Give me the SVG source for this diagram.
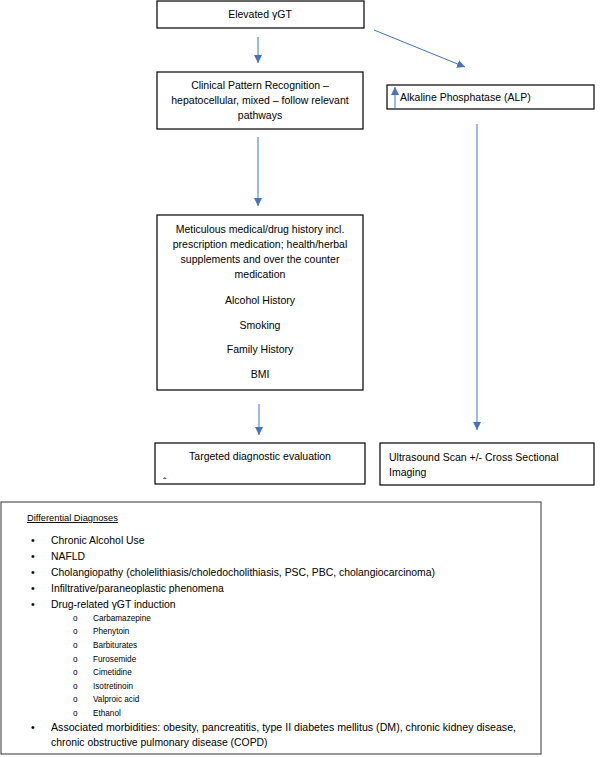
<svg xmlns="http://www.w3.org/2000/svg" width="600" height="757" viewBox="0 0 600 757">
<defs>
<style>
.box{fill:#fff;stroke:#000;stroke-width:1.2}
.t{font-family:"Liberation Sans",Arial,sans-serif;font-size:10.5px;fill:#000}
.c{text-anchor:middle}
.h{font-family:"Liberation Sans",Arial,sans-serif;font-size:9.3px;fill:#000}
.s{font-family:"Liberation Sans",Arial,sans-serif;font-size:10.4px;fill:#000}
.ss{font-family:"Liberation Sans",Arial,sans-serif;font-size:8.2px;fill:#000}
.ln{stroke:#4472C4;stroke-width:1;fill:none}
</style>
<marker id="ah" viewBox="0 0 10 10" refX="10" refY="5" markerWidth="8" markerHeight="8" markerUnits="userSpaceOnUse" orient="auto">
<path d="M0,0 L10,5 L0,10 z" fill="#4472C4"/>
</marker>
</defs>
<rect width="600" height="757" fill="#fff"/>
<g id="connectors">
<line class="ln" x1="258" y1="37" x2="258" y2="63" marker-end="url(#ah)"/>
<line class="ln" x1="374" y1="30" x2="465" y2="67" marker-end="url(#ah)"/>
<line class="ln" x1="258" y1="137" x2="258" y2="206" marker-end="url(#ah)"/>
<line class="ln" x1="477" y1="124" x2="477" y2="430" marker-end="url(#ah)"/>
<line class="ln" x1="259" y1="404" x2="259" y2="435" marker-end="url(#ah)"/>
</g>
<g id="elevated">
<rect class="box" x="157" y="1" width="207" height="27"/>
<text class="t c" x="260" y="18">Elevated γGT</text>
</g>
<g id="clinical">
<rect class="box" x="157" y="72" width="206" height="57"/>
<text class="t c" x="260" y="89">Clinical Pattern Recognition –</text>
<text class="t c" x="260" y="104">hepatocellular, mixed – follow relevant</text>
<text class="t c" x="260" y="119">pathways</text>
</g>
<g id="alp">
<rect class="box" x="387" y="85" width="207" height="24"/>
<line class="ln" x1="395" y1="108" x2="395" y2="87" marker-end="url(#ah)"/>
<text class="t" x="400" y="101">Alkaline Phosphatase (ALP)</text>
</g>
<g id="history">
<rect class="box" x="157" y="215" width="206" height="175"/>
<text class="t c" x="260" y="233">Meticulous medical/drug history incl.</text>
<text class="t c" x="260" y="248">prescription medication; health/herbal</text>
<text class="t c" x="260" y="263">supplements and over the counter</text>
<text class="t c" x="260" y="278">medication</text>
<text class="t c" x="260" y="304">Alcohol History</text>
<text class="t c" x="260" y="329">Smoking</text>
<text class="t c" x="260" y="353">Family History</text>
<text class="t c" x="260" y="378">BMI</text>
</g>
<g id="targeted">
<rect class="box" x="155" y="443" width="210" height="41"/>
<text class="t c" x="260" y="460">Targeted diagnostic evaluation</text>
<text class="t" x="163" y="486" font-size="8">ˆ</text>
</g>
<g id="ultrasound">
<rect class="box" x="380" y="443" width="214" height="42"/>
<text class="t" x="389" y="461">Ultrasound Scan +/- Cross Sectional</text>
<text class="t" x="389" y="476">Imaging</text>
</g>
<g id="differential">
<rect x="1" y="502" width="540" height="252" fill="#fff" stroke="#555" stroke-width="1.2"/>
<text class="h" x="27" y="521" text-decoration="underline">Differential Diagnoses</text>
<g class="s">
<text x="31" y="544">•</text><text x="51" y="544">Chronic Alcohol Use</text>
<text x="31" y="560">•</text><text x="51" y="560">NAFLD</text>
<text x="31" y="576">•</text><text x="51" y="576" textLength="384" lengthAdjust="spacingAndGlyphs">Cholangiopathy (cholelithiasis/choledocholithiasis, PSC, PBC, cholangiocarcinoma)</text>
<text x="31" y="592">•</text><text x="51" y="592">Infiltrative/paraneoplastic phenomena</text>
<text x="31" y="608">•</text><text x="51" y="608">Drug-related γGT induction</text>
<text x="31" y="731">•</text><text x="51" y="731" textLength="465" lengthAdjust="spacingAndGlyphs">Associated morbidities: obesity, pancreatitis, type II diabetes mellitus (DM), chronic kidney disease,</text>
<text x="51" y="746">chronic obstructive pulmonary disease (COPD)</text>
</g>
<g class="ss">
<text x="73" y="621">o</text><text x="93" y="621">Carbamazepine</text>
<text x="73" y="634">o</text><text x="93" y="634">Phenytoin</text>
<text x="73" y="648">o</text><text x="93" y="648">Barbiturates</text>
<text x="73" y="662">o</text><text x="93" y="662">Furosemide</text>
<text x="73" y="675">o</text><text x="93" y="675">Cimetidine</text>
<text x="73" y="689">o</text><text x="93" y="689">Isotretinoin</text>
<text x="73" y="702">o</text><text x="93" y="702">Valproic acid</text>
<text x="73" y="716">o</text><text x="93" y="716">Ethanol</text>
</g>
</g>
</svg>
